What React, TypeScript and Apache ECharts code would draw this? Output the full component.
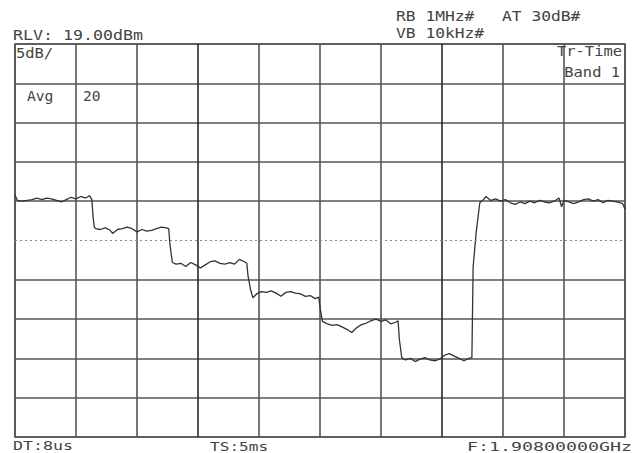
import React, { useEffect, useRef } from "react";
import * as echarts from "echarts";

// Analyzer settings shown on the screen
const RLV_DBM = 19; // reference level at the top graticule line
const DB_PER_DIV = 5;
const DIVS = 10;
const SWEEP_MS = 5;

// Zero-span trace: time into the sweep (ms) and measured power (dBm)
const traceMs = [
  0.0, 0.02, 0.06, 0.1, 0.14, 0.18, 0.22, 0.26, 0.3, 0.34, 0.38, 0.42, 0.46, 0.5, 0.54, 0.58, 0.61, 0.63, 0.64, 0.65,
  0.66, 0.7, 0.74, 0.78, 0.8, 0.84, 0.88, 0.92, 0.96, 1.0, 1.04, 1.08, 1.12, 1.16, 1.2, 1.24, 1.26, 1.27,
  1.29, 1.32, 1.36, 1.4, 1.44, 1.48, 1.52, 1.56, 1.6, 1.64, 1.68, 1.72, 1.76, 1.8, 1.84, 1.88, 1.9, 1.91, 1.93,
  1.95, 1.98, 2.02, 2.06, 2.1, 2.14, 2.18, 2.22, 2.26, 2.3, 2.34, 2.38, 2.42, 2.46, 2.49, 2.5,
  2.52, 2.56, 2.6, 2.64, 2.68, 2.72, 2.76, 2.8, 2.84, 2.88, 2.92, 2.96, 3.0, 3.04, 3.08, 3.12, 3.14, 3.15,
  3.17, 3.2, 3.24, 3.28, 3.32, 3.36, 3.4, 3.44, 3.48, 3.52, 3.56, 3.6, 3.64, 3.68, 3.72, 3.745,
  3.755, 3.78, 3.81,
  3.84, 3.86, 3.9, 3.94, 3.98, 4.02, 4.06, 4.1, 4.14, 4.18, 4.22, 4.26, 4.3, 4.34, 4.38, 4.42, 4.46, 4.48, 4.5,
  4.54, 4.58, 4.62, 4.66, 4.7, 4.74, 4.78, 4.82, 4.86, 4.9, 4.94, 4.98, 5.0,
];
const traceDbm = [
  -0.2, -0.9, -1.0, -0.9, -0.8, -0.6, -0.8, -0.6, -0.7, -0.9, -1.1, -0.8, -0.5, -0.7, -0.4, -0.6, -0.3, -0.8, -3.0, -4.3,
  -4.5, -4.6, -4.4, -4.7, -5.1, -4.6, -4.5, -4.3, -4.5, -4.9, -4.6, -4.8, -4.7, -4.5, -4.3, -4.4, -4.5, -6.5,
  -8.8, -9.0, -8.9, -9.3, -8.8, -9.1, -9.5, -9.1, -8.7, -8.6, -8.9, -9.0, -8.8, -9.0, -8.4, -8.7, -8.9, -10.5, -12.2,
  -13.3, -12.8, -12.5, -12.6, -12.4, -12.7, -13.1, -12.6, -12.5, -12.7, -12.8, -13.1, -13.0, -13.4, -13.2, -14.5,
  -16.3, -16.6, -16.8, -16.7, -17.0, -17.3, -17.7, -17.1, -16.7, -16.5, -16.2, -16.0, -16.3, -16.1, -16.6, -16.4, -16.2, -18.5,
  -20.9, -21.2, -21.0, -21.4, -21.1, -20.9, -21.2, -21.3, -21.1, -20.6, -20.4, -20.7, -21.0, -21.3, -21.0, -20.9,
  -9.4, -5.0, -1.2,
  -0.8, -0.4, -0.9, -0.7, -1.0, -0.8, -1.2, -1.4, -1.1, -1.3, -1.0, -1.2, -0.9, -1.1, -1.2, -1.0, -0.6, -1.7, -0.9,
  -1.1, -1.3, -1.1, -0.8, -0.7, -1.0, -0.8, -1.2, -0.9, -1.0, -1.1, -1.3, -2.0,
];

// Screen annotations
const headerLeft = "RLV: 19.00dBm";
const headerRb = "RB 1MHz#";
const headerAt = "AT 30dB#";
const headerVb = "VB 10kHz#";
const scaleText = "5dB/";
const avgLabel = "Avg";
const avgCount = "20";
const modeLine1 = "Tr-Time";
const modeLine2 = "Band 1";
const footerDt = "DT:8us";
const footerTs = "TS:5ms";
const footerF = "F:1.90800000GHz";

const FONT = '"DejaVu Sans Mono", "Liberation Mono", monospace';
const MONO_ADVANCE = 0.602; // DejaVu Sans Mono advance width per em
const INK = "#444444";
const GRID = "#555555";
const GRID_DARK = "#2a2a2a";

// Fixed-pitch screen text: glyphs are stretched horizontally to the LCD pitch
function screenText(
  text: string,
  x: number,
  y: number,
  opts: { align?: "left" | "right"; pitch?: number; size?: number } = {}
) {
  const size = opts.size ?? 14;
  const pitch = opts.pitch ?? 9.8;
  return {
    type: "text",
    x,
    y,
    scaleX: pitch / (size * MONO_ADVANCE),
    z: 10,
    style: {
      text,
      fontFamily: FONT,
      fontSize: size,
      fill: INK,
      align: opts.align ?? "left",
      verticalAlign: "middle",
    },
  };
}

export default function App() {
  const ref = useRef<HTMLDivElement>(null);

  useEffect(() => {
    document.body.style.margin = "0";
    if (!ref.current) return;
    const chart = echarts.init(ref.current, undefined, { renderer: "svg" });

    const bottomDbm = RLV_DBM - DB_PER_DIV * DIVS;
    const centreDbm = RLV_DBM - (DB_PER_DIV * DIVS) / 2;
    const data = traceMs.map((t, i) => [t, traceDbm[i]]);

    // vertical graticule colours: 3rd and 7th lines look heavier
    const vColors = Array.from({ length: DIVS + 1 }, (_, i) => (i === 3 || i === 7 ? GRID_DARK : GRID));
    // horizontal graticule: centre line is replaced by a dotted line
    const hColors = Array.from({ length: DIVS + 1 }, (_, i) => (i === DIVS / 2 ? "rgba(0,0,0,0)" : GRID));

    chart.setOption({
      animation: false,
      backgroundColor: "#ffffff",
      grid: {
        left: 15,
        right: 10,
        top: 44,
        bottom: 16,
        show: true,
        borderColor: GRID,
        borderWidth: 1.6,
        backgroundColor: "transparent",
      },
      xAxis: {
        type: "value",
        min: 0,
        max: SWEEP_MS,
        interval: SWEEP_MS / DIVS,
        axisLine: { show: false },
        axisTick: { show: false },
        axisLabel: { show: false },
        splitLine: { show: true, lineStyle: { color: vColors, width: 1.6 } },
      },
      yAxis: [
        {
          type: "value",
          min: bottomDbm,
          max: RLV_DBM,
          axisLine: { show: false },
          axisTick: { show: false },
          axisLabel: { show: false },
          splitLine: { show: false },
        },
        {
          type: "value",
          min: 0,
          max: DIVS,
          interval: 1,
          position: "left",
          axisLine: { show: false },
          axisTick: { show: false },
          axisLabel: { show: false },
          splitLine: { show: true, lineStyle: { color: hColors, width: 1.6 } },
        },
      ],
      series: [
        {
          type: "line",
          yAxisIndex: 0,
          data,
          showSymbol: false,
          symbol: "none",
          lineStyle: { color: "#333333", width: 1.3 },
          silent: true,
          markLine: {
            silent: true,
            symbol: "none",
            label: { show: false },
            lineStyle: { color: "#888888", type: [2, 3], width: 1.2 },
            data: [{ yAxis: centreDbm }],
          },
        },
      ],
      graphic: [
        screenText(headerRb, 396, 16),
        screenText(headerAt, 502, 16),
        screenText(headerVb, 396, 33),
        screenText(headerLeft, 13, 35, { pitch: 10 }),
        screenText(scaleText, 16, 53, { pitch: 9.3 }),
        screenText(modeLine1, 622, 51, { align: "right", pitch: 9.3 }),
        screenText(modeLine2, 620, 72, { align: "right", pitch: 9.3 }),
        screenText(avgLabel, 27, 96, { pitch: 8.8 }),
        screenText(avgCount, 83, 96, { pitch: 8.8 }),
        screenText(footerDt, 13, 446, { pitch: 10, size: 13 }),
        screenText(footerTs, 210, 446, { pitch: 9.7, size: 13 }),
        screenText(footerF, 632, 446, { align: "right", pitch: 11, size: 13 }),
      ],
    });

    return () => chart.dispose();
  }, []);

  return (
    <div
      ref={ref}
      style={{ position: "absolute", left: 0, top: 0, width: 635, height: 453, background: "#fff" }}
    />
  );
}
